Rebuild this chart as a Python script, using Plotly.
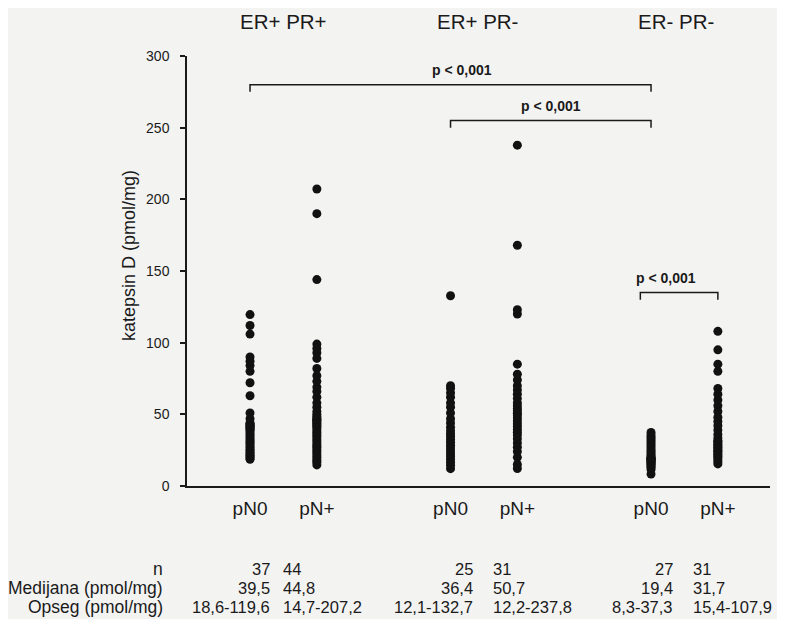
import plotly.graph_objects as go

# ---------------- data ----------------
groups = ["ER+ PR+", "ER+ PR-", "ER- PR-"]
subgroups = ["pN0", "pN+"]

er_pos_pr_pos_pN0 = [18.6, 19.5, 20.4, 21.5, 22.3, 23.4, 24.6, 25.5, 26.8, 28.0, 29.3, 30.5, 31.8,
                     33.0, 34.4, 35.7, 37.0, 38.3, 39.5, 40.0, 40.8, 41.5, 42.0, 42.7, 43.5,
                     44.0, 47.0, 51.0, 63.0, 72.0, 80.0, 84.0, 87.0, 90.0, 106.0, 112.0, 119.6]
er_pos_pr_pos_pNp = [14.7, 16.5, 18.0, 19.5, 21.0, 22.5, 24.0, 25.5, 27.0, 28.5, 30.0, 31.5, 33.0,
                     34.5, 36.0, 37.5, 39.0, 40.5, 41.5, 42.5, 43.5, 44.3, 45.3, 46.0, 46.5, 47.5,
                     48.5, 50.0, 52.0, 55.0, 58.0, 62.0, 66.0, 69.0, 73.0, 77.0, 82.0, 89.0,
                     93.0, 96.0, 99.0, 144.0, 190.0, 207.2]
er_pos_pr_neg_pN0 = [12.1, 14.5, 16.5, 18.5, 20.5, 22.5, 24.5, 26.5, 28.5, 30.5, 32.5, 34.5, 36.4,
                     38.5, 41.0, 44.0, 47.0, 51.0, 55.0, 58.0, 62.0, 65.0, 68.0, 70.0, 132.7]
er_pos_pr_neg_pNp = [12.2, 15.0, 20.0, 24.0, 27.0, 30.0, 33.0, 35.5, 37.5, 39.5, 41.5, 43.5, 45.5,
                     47.5, 49.5, 50.7, 52.5, 54.0, 56.0, 58.0, 61.0, 64.0, 67.0, 70.0, 74.0,
                     78.0, 85.0, 120.0, 123.0, 168.0, 237.8]
er_neg_pr_neg_pN0 = [8.3, 11.5, 13.0, 14.0, 14.8, 15.5, 16.2, 16.8, 17.4, 17.9, 18.4, 18.8, 19.1,
                     19.4, 20.0, 21.0, 22.0, 23.5, 25.0, 26.5, 28.0, 29.5, 31.0, 32.5, 34.0,
                     35.5, 37.3]
er_neg_pr_neg_pNp = [15.4, 17.0, 18.5, 20.0, 21.0, 22.0, 23.0, 24.0, 25.0, 26.0, 27.0, 28.0, 29.0,
                     30.0, 31.0, 31.7, 33.5, 36.0, 39.0, 42.0, 45.0, 48.0, 52.0, 56.0, 60.0,
                     64.0, 68.0, 80.0, 85.0, 95.0, 107.9]

series = [er_pos_pr_pos_pN0, er_pos_pr_pos_pNp,
          er_pos_pr_neg_pN0, er_pos_pr_neg_pNp,
          er_neg_pr_neg_pN0, er_neg_pr_neg_pNp]

n_values = ["37", "44", "25", "31", "27", "31"]
median_values = ["39,5", "44,8", "36,4", "50,7", "19,4", "31,7"]
range_values = ["18,6-119,6", "14,7-207,2", "12,1-132,7", "12,2-237,8", "8,3-37,3", "15,4-107,9"]
row_labels = ["n", "Medijana (pmol/mg)", "Opseg (pmol/mg)"]

y_ticks = [0, 50, 100, 150, 200, 250, 300]
y_title = "katepsin D (pmol/mg)"

# significance brackets: (from column, to column, level, label)
brackets = [(0, 4, 280, "p < 0,001"),
            (2, 4, 255, "p < 0,001"),
            (4, 5, 135, "p < 0,001")]

# ---------------- layout helpers ----------------
FONT = "Liberation Sans, Arial, sans-serif"
INK = "#1a1a1a"
BG = "#f3f3f2"
col_x = [0, 1, 3, 4, 6, 7]          # column positions on the x axis
group_x = [0.5, 3.4, 6.38]
table_offset = [0.33, -0.53, 0.36, -0.40, 0.36, -0.40]


def py(pix):
    """paper y for a page pixel row (plot spans rows 56..486)"""
    return (486 - pix) / 430.0


def px(pix):
    """paper x for a page pixel column (plot spans columns 187..770)"""
    return (pix - 187) / 583.0


fig = go.Figure()
for i, vals in enumerate(series):
    fig.add_trace(go.Scatter(
        x=[col_x[i]] * len(vals), y=vals, mode="markers",
        marker=dict(color="#111111", size=9, line=dict(width=0)),
        showlegend=False, hoverinfo="y"))

shapes = []
annotations = []
drop = 5
for c0, c1, lvl, lab in brackets:
    x0 = col_x[c0]
    x1 = col_x[c1]
    if c0 == 4 and c1 == 5:
        x0 -= 0.16
    shapes.append(dict(type="path", xref="x", yref="y",
                       path=f"M {x0},{lvl - drop} L {x0},{lvl} L {x1},{lvl} L {x1},{lvl - drop}",
                       line=dict(color=INK, width=1.5)))
    tx = (x0 + x1) / 2
    if c0 == 0:
        tx += 0.17
    if c0 == 4:
        tx -= 0.2
    annotations.append(dict(x=tx, y=lvl + 3, xref="x", yref="y", text=f"<b>{lab}</b>",
                            showarrow=False, yanchor="bottom",
                            font=dict(family=FONT, size=14, color=INK)))

for g, gx in zip(groups, group_x):
    annotations.append(dict(x=gx, y=py(22), xref="x", yref="paper", text=g, showarrow=False,
                            yanchor="middle", borderpad=0,
                            font=dict(family=FONT, size=20.5, color=INK)))

annotations.append(dict(x=px(129), y=py(256), xref="paper", yref="paper", text=y_title,
                        textangle=-90, showarrow=False, xanchor="center", yanchor="middle",
                        font=dict(family=FONT, size=18, color=INK)))

row_y = [py(569), py(588), py(607)]
for lab, ry in zip(row_labels, row_y):
    annotations.append(dict(x=px(165), y=ry, xref="paper", yref="paper", text=lab,
                            showarrow=False, xanchor="right", yanchor="middle",
                            font=dict(family=FONT, size=17.5, color=INK)))
for i in range(6):
    vals = [n_values[i], median_values[i], range_values[i]]
    is_n0 = i % 2 == 0
    for v, ry in zip(vals, row_y):
        annotations.append(dict(x=col_x[i] + table_offset[i], y=ry,
                                xref="x", yref="paper", text=v, showarrow=False,
                                xanchor="right" if is_n0 else "left", yanchor="middle",
                                font=dict(family=FONT, size=16.5, color=INK)))

fig.update_layout(
    width=769, height=611,
    margin=dict(l=179, r=7, t=48, b=133),
    paper_bgcolor=BG, plot_bgcolor=BG,
    shapes=shapes, annotations=annotations,
    xaxis=dict(range=[-0.943, 7.78], tickvals=col_x, ticktext=subgroups * 3,
               showgrid=False, zeroline=False, showline=True, linecolor=INK, linewidth=1.5,
               ticks="", ticklabelstandoff=4,
               tickfont=dict(family=FONT, size=19, color=INK)),
    yaxis=dict(range=[0, 300], tickvals=y_ticks, showgrid=False, zeroline=False,
               showline=True, linecolor=INK, linewidth=1.5, ticks="outside", ticklen=5,
               tickcolor=INK, tickwidth=1.5, ticklabelstandoff=8,
               tickfont=dict(family=FONT, size=14, color=INK)),
)

fig.write_html("out.html")
